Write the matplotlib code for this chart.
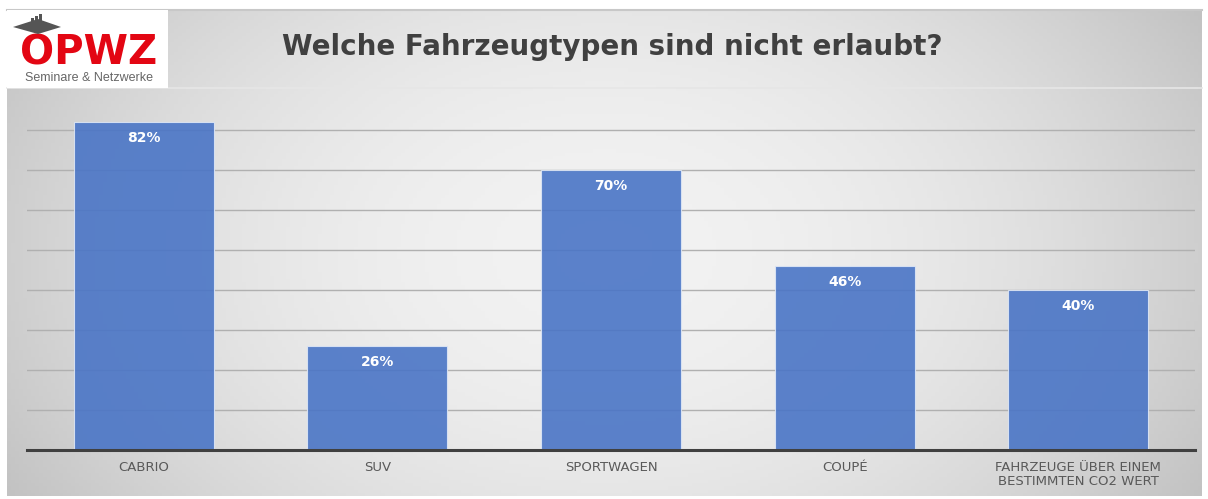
import numpy as np
import matplotlib.pyplot as plt
from matplotlib.patches import Rectangle, Polygon

categories = ['CABRIO', 'SUV', 'SPORTWAGEN', 'COUPÉ', 'FAHRZEUGE ÜBER EINEM\nBESTIMMTEN CO2 WERT']
values = [82, 26, 70, 46, 40]
labels = ['82%', '26%', '70%', '46%', '40%']
title = 'Welche Fahrzeugtypen sind nicht erlaubt?'

W, H = 1208, 499
fig = plt.figure(figsize=(W / 100, H / 100), dpi=100)
fig.patch.set_facecolor('white')

# background frame with radial gradient
bg = fig.add_axes([0, 0, 1, 1], zorder=0)
bg.set_xlim(0, W)
bg.set_ylim(H, 0)
bg.axis('off')
x0, x1, y0, y1 = 7, 1202, 10, 496
xx, yy = np.meshgrid(np.linspace(-1, 1, 300), np.linspace(-1, 1, 150))
r = np.sqrt(xx ** 2 + yy ** 2 * 0.35)
g = 0.95 - 0.14 * np.clip(r, 0, 1.2) ** 2
bg.imshow(np.dstack([g, g, g]), extent=(x0, x1, y1, y0), aspect='auto', zorder=0)
bg.plot([x0, x1], [y0, y0], color='#c8c8c8', lw=1.5, zorder=1)
bg.plot([x0, x1], [88, 88], color='#e6e6e6', lw=1.2, zorder=1)

# logo
bg.add_patch(Rectangle((x0, y0), 161, 78, facecolor='white', edgecolor='none', zorder=2))
bg.text(89, 64, 'OPWZ', color='#e30613', fontsize=29, fontweight='bold',
        ha='center', va='baseline', family='DejaVu Sans', zorder=3)
bg.text(89, 81, 'Seminare & Netzwerke', color='#666666', fontsize=9,
        ha='center', va='baseline', family='Liberation Sans', zorder=3)
bg.add_patch(Polygon([[13, 27], [38, 19], [61, 27], [38, 34]], closed=True,
                     facecolor='#555555', edgecolor='none', zorder=4))
for bx, bh in [(31, 5), (35, 7), (39, 9)]:
    bg.add_patch(Rectangle((bx, 23 - bh), 2.5, bh, facecolor='#555555', zorder=4))

fig.text(612 / W, 1 - 47 / H, title, fontsize=20, fontweight='bold', color='#404040',
         ha='center', va='center', family='DejaVu Sans')

ax = fig.add_axes([27 / W, 49 / H, 1168 / W, 360 / H], zorder=1)
ax.patch.set_alpha(0)
x = np.arange(len(categories))
ax.bar(x, values, width=0.6, color='#4a75c6', alpha=0.9, edgecolor='#dde6f5',
       linewidth=0.8, zorder=3)
for xi, v, lab in zip(x, values, labels):
    ax.text(xi, v - 4, lab, ha='center', va='center', color='white',
            fontsize=10, fontweight='bold', zorder=4)
ax.set_xlim(-0.5, len(categories) - 0.5)
ax.set_ylim(0, 90)
for yv in range(10, 90, 10):
    ax.axhline(yv, color='#b0b0b0', lw=1.0, zorder=2)
ax.axhline(0, color='#404040', lw=2.2, zorder=5, clip_on=False)
ax.set_yticks([])
ax.set_xticks(x)
ax.set_xticklabels(categories, fontsize=9.5, color='#595959', linespacing=1.1)
ax.tick_params(axis='x', length=0, pad=8)
for s in ax.spines.values():
    s.set_visible(False)

fig.savefig('out.png', dpi=100)
